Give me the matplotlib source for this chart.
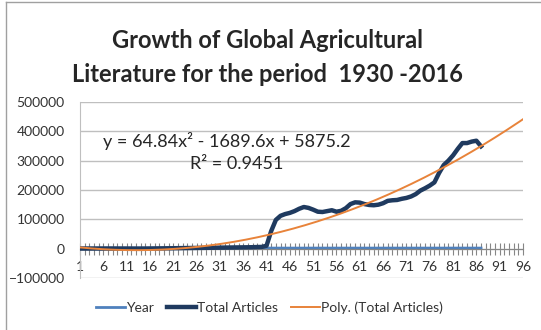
import matplotlib
matplotlib.use('Agg')
import matplotlib.pyplot as plt
from matplotlib.lines import Line2D
import numpy as np

plt.rcParams['font.family'] = ['Lato', 'DejaVu Sans']

# categories 1..96 on the axis, data for 1930..2016 (87 years)
n_cats = 96
years = list(range(1930, 2017))
total_articles = [
    300, 350, 400, 420, 450, 500, 520, 480, 450, 400,
    380, 300, 250, 280, 350, 500, 700, 900, 1100, 1300,
    1500, 1700, 1900, 2100, 2300, 2500, 2700, 2900, 3100, 3300,
    3500, 3700, 3900, 4100, 4300, 4500, 4700, 5000, 5500, 6000,
    10000, 60000, 98000, 112000, 118000, 122000, 128000, 136000, 142000, 139000,
    133000, 126000, 125000, 128000, 131000, 126000, 129000, 138000, 152000, 158000,
    157000, 152000, 149000, 148000, 150000, 155000, 163000, 165000, 166000, 170000,
    173000, 178000, 186000, 198000, 206000, 215000, 226000, 258000, 285000, 300000,
    318000, 340000, 360000, 360000, 365000, 368000, 349000,
]
trend_coef = [64.84, -1689.6, 5875.2]
eq_text = 'y = 64.84x² - 1689.6x + 5875.2'
r2_text = 'R² = 0.9451'

x = np.arange(1, len(years) + 1)
xt = np.linspace(1, n_cats, 300)

fig = plt.figure(figsize=(5.41, 3.30), dpi=100)
ax = fig.add_axes([80 / 541, 1 - 278 / 330, 443 / 541, 176 / 330])

ax.plot(x, years, color='#4F81BD', lw=2, label='Year', zorder=2)
ax.plot(x, total_articles, color='#1F3A5F', lw=3.2, label='Total Articles', zorder=3)
ax.plot(xt, np.polyval(trend_coef, xt), color='#E8833A', lw=1.4,
        label='Poly. (Total Articles)', zorder=4)

ax.set_xlim(1, n_cats)
ax.set_ylim(-100000, 500000)
ax.set_yticks(range(-100000, 500001, 100000))
ax.yaxis.grid(True, color='#BFBFBF', lw=1)
ax.set_axisbelow(True)
ax.tick_params(axis='y', length=0, pad=11, labelsize=10, labelcolor='#333333')

ax.set_xticks(range(1, n_cats + 1))
ax.set_xticklabels([str(i) if (i - 1) % 5 == 0 else '' for i in range(1, n_cats + 1)])
ax.tick_params(axis='x', direction='inout', length=8, width=0.8, color='#868686',
               pad=5, labelsize=10, labelcolor='#333333')

ax.spines['bottom'].set_position(('data', 0))
ax.spines['bottom'].set_color('#868686')
ax.spines['left'].set_color('#BFBFBF')
ax.spines['top'].set_visible(False)
ax.spines['right'].set_visible(False)

ax.text(6.0, 368000, eq_text, fontsize=13, color='#262626', va='center')
ax.text(24.5, 287000, r2_text, fontsize=13, color='#262626', va='center')

fig.text(0.495, 1 - 40 / 330, 'Growth of Global Agricultural', ha='center', va='center',
         fontsize=17, fontweight='bold', color='#262626')
fig.text(0.495, 1 - 75 / 330, 'Literature for the period  1930 -2016', ha='center', va='center',
         fontsize=17, fontweight='bold', color='#262626')

fig.legend(loc='center', bbox_to_anchor=(0.498, 1 - 308 / 330), ncol=3, frameon=False,
           fontsize=10, handlelength=2.1, handletextpad=0.1, columnspacing=0.9,
           labelcolor='#333333')

fig.add_artist(Line2D([6 / 541, 6 / 541], [0, 1 - 2 / 330], color='#A0A0A0', lw=1))
fig.add_artist(Line2D([6 / 541, 1], [1 - 2 / 330, 1 - 2 / 330], color='#A0A0A0', lw=1))

fig.savefig('out.png', dpi=100)
